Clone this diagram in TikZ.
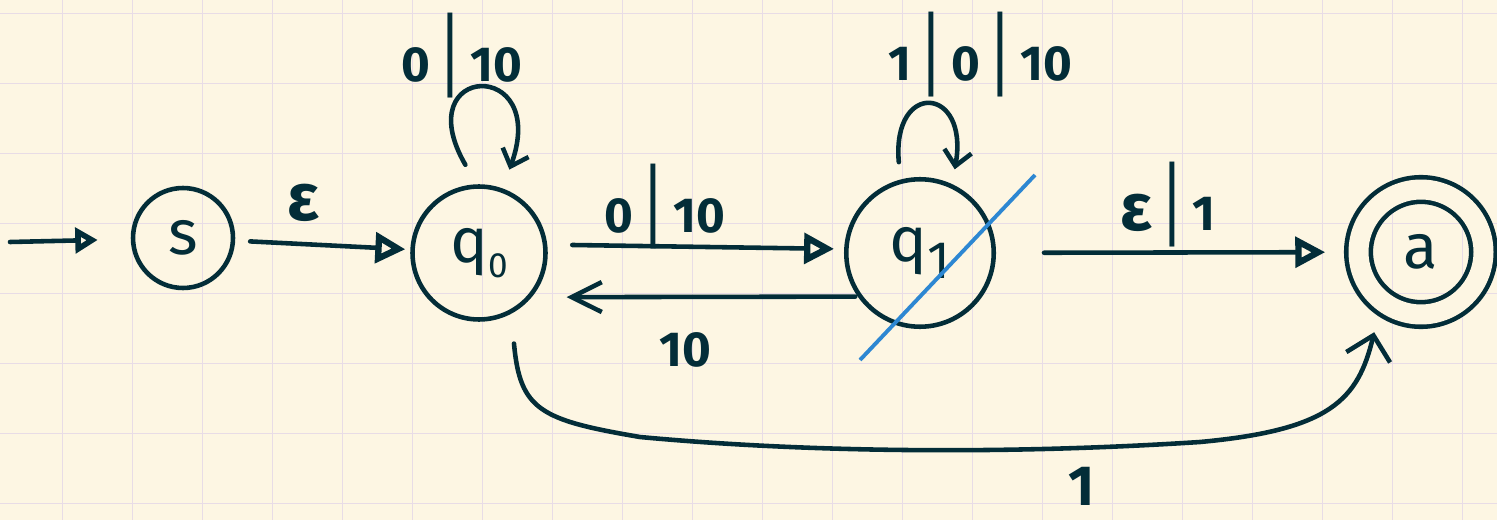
\documentclass[tikz,border=0pt]{standalone}
\usepackage{fontspec}
\usepackage{graphicx}
\setmainfont{Fira Sans}
\usetikzlibrary{arrows.meta}
\definecolor{paper}{HTML}{FDF6E3}
\definecolor{gridc}{HTML}{E8DCE6}
\definecolor{ink}{HTML}{032D38}
\definecolor{pen}{HTML}{2D87D2}
\newcommand{\sepbar}{\,\raisebox{-0.3ex}{\mdseries\scalebox{1.2}[1.9]{|}}\,}
\newcommand{\eps}{\scalebox{1.35}{ε}}
\tikzset{
  ink/.style={draw=ink, line width=2.6pt, line cap=round, line join=round},
  state/.style={ink, circle, inner sep=0pt, text=ink, font=\fontsize{36}{40}\selectfont},
  lab/.style={text=ink, font=\fontsize{28}{32}\selectfont\bfseries, inner sep=0pt},
  edge/.style={ink, -{Triangle[open, length=0.6cm, width=0.6cm, line width=3.6pt]}},
  barb/.style={ink, -{Straight Barb[length=0.45cm, width=0.9cm]}},
  hook/.style={ink, -{Straight Barb[length=0.3cm, width=0.55cm]}},
}
\begin{document}
\begin{tikzpicture}[x=0.02cm, y=-0.02cm]
\fill[paper] (0,0) rectangle (1497,520);
\useasboundingbox (0,0) rectangle (1497,520);
\foreach \i in {0,...,20} \draw[gridc, line width=0.6pt] (62.7+70*\i,0) -- (62.7+70*\i,520);
\foreach \j in {0,...,7} \draw[gridc, line width=0.6pt] (0,13.3+70*\j) -- (1497,13.3+70*\j);

% states
\node[state, minimum size=2cm] (s) at (183,238) {s};
\node[state, minimum size=2.66cm] (q0) at (479,253) {q\raisebox{-0.45ex}{\fontsize{20}{22}\selectfont 0}};
\node[state, minimum size=2.95cm] (q1) at (920,253) {q\raisebox{-0.5ex}{\fontsize{30}{32}\selectfont 1}};
\node[state, minimum size=2.5cm, double=paper, double distance=0.4cm] (a) at (1421,252) {a};
\coordinate (start) at (10,242);

% strike-through
\draw[pen, line width=2.2pt] (860,360) -- (1035,175);

% edges
\draw[ink, -{Triangle[open, length=0.45cm, width=0.5cm, line width=3.6pt]}, shorten >=0.66cm] (start) -- (s);
\draw[edge, shorten <=0.3cm, shorten >=0.1cm] (s) -- (q0);
\draw[edge, shorten <=0.5cm, shorten >=0.2cm] (q0.7) -- (q1.177);
\draw[ink, -{Straight Barb[length=0.6cm, width=0.6cm]}, shorten <=0.05cm, shorten >=0.7cm] (q1.215) -- (q0.-40);
\draw[edge, shorten <=0.96cm, shorten >=0.62cm] (q1) -- (a);
\draw[hook, shorten <=0.45cm, shorten >=0.4cm] (q0.92) to[out=120, in=70, distance=2.8cm] (q0.70);
\draw[hook, shorten <=0.35cm, shorten >=0.3cm] (q1.105) to[out=95, in=80, distance=2cm] (q1.65);
\draw[barb, shorten <=0.6cm, shorten >=0.6cm] (q0.-62) .. controls (520,410) and (540,420) .. (640,437)
   .. controls (800,452) and (1000,455) .. (1200,442)
   .. controls (1330,430) and (1358,400) .. (a.-128);

% labels
\node[lab] (le) at (303,203) {\eps};
\node[lab] (lq0) at (462,56) {0\sepbar10};
\node[lab] (l01) at (665,207) {0\sepbar10};
\node[lab] (l10) at (685,350) {10};
\node[lab] (lq1) at (980,55) {1\sepbar0\sepbar10};
\node[lab] (lea) at (1168,205) {\eps\sepbar1};
\node[lab] (l1) at (1082,486) {\scalebox{1.15}{1}};
\end{tikzpicture}
\end{document}
